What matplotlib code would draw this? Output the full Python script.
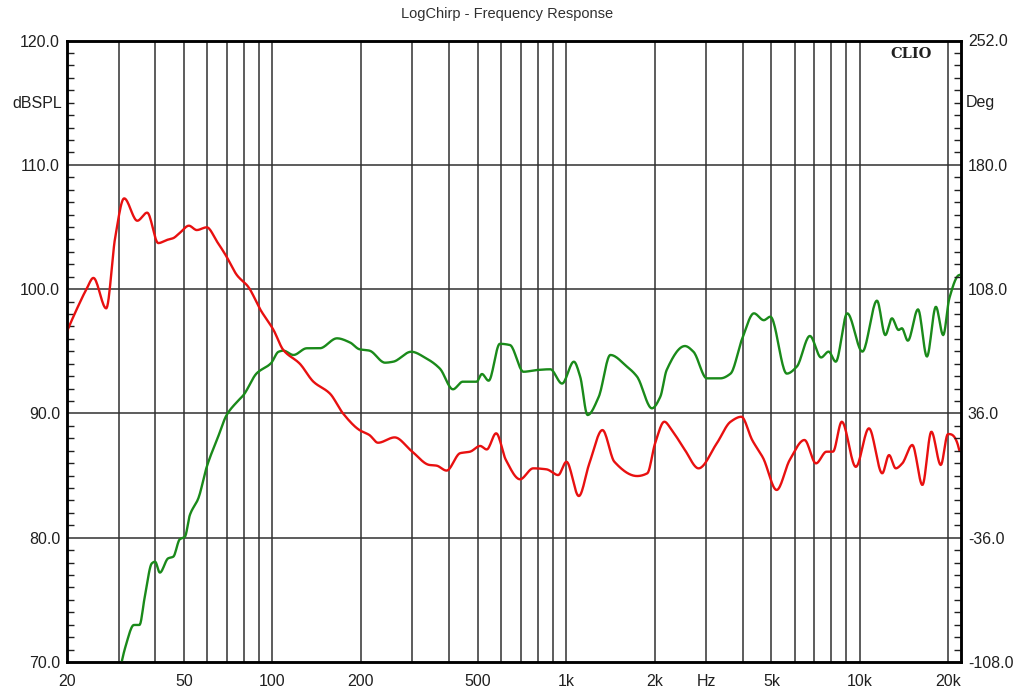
import numpy as np
import matplotlib
matplotlib.use("Agg")
import matplotlib.pyplot as plt
from matplotlib.ticker import FixedLocator, MultipleLocator

plt.rcParams['font.family'] = ['Liberation Sans', 'DejaVu Sans']

# ---------------- data ---------------- #
red_freq = [20, 22.1, 23.3, 24.6, 27.2, 29.2, 31.3, 34.7, 37.5, 40.9, 43.7, 46.0, 48.3, 52.0,
            55.3, 59.8, 64.9, 69.3, 75.9, 82.7, 91.3, 101, 109, 124, 138, 157, 174, 198, 214,
            229, 261, 297, 343, 362, 392, 436, 471, 510, 537, 578, 624, 697, 773, 858, 940,
            1003, 1105, 1200, 1330, 1460, 1745, 1890, 2010, 2160, 2290, 2539, 2825, 3260,
            3630, 3950, 4300, 4690, 5210, 5770, 6480, 7090, 7700, 8100, 8680, 9690, 10740,
            11920, 12570, 13250, 13950, 15090, 16330, 17520, 18860, 19950, 21800]
red_db = [96.6, 98.9, 100.0, 100.9, 98.45, 104.2, 107.3, 105.5, 106.15, 103.7, 103.95, 104.1,
          104.5, 105.1, 104.75, 104.97, 103.8, 102.75, 101.1, 100.2, 98.3, 96.7, 95.1, 94.0,
          92.55, 91.6, 90.0, 88.66, 88.26, 87.64, 88.07, 87.0, 85.85, 85.8, 85.4, 86.8, 86.92,
          87.38, 87.1, 88.4, 86.25, 84.7, 85.58, 85.5, 85.04, 86.11, 83.35, 85.98, 88.66,
          86.11, 84.96, 85.18, 87.6, 89.33, 88.66, 87.05, 85.58, 87.6, 89.33, 89.73, 87.86,
          86.39, 83.84, 86.25, 87.86, 85.98, 86.92, 86.92, 89.33, 85.7, 88.8, 85.18, 86.65,
          85.58, 85.98, 87.46, 84.24, 88.53, 85.85, 88.34, 87.05]

green_freq = [30.7, 31.6, 33.8, 35.3, 36.8, 38.9, 39.9, 41.4, 44.2, 46.0, 48.4, 50.4, 52.4,
              56.0, 59.8, 65.4, 69.9, 75.9, 79.8, 88.5, 98.9, 105, 109, 118, 131, 145, 166,
              184, 198, 214, 242, 258, 297, 334, 372, 412, 445, 496, 517, 545, 595, 644, 716,
              795, 884, 969, 1063, 1117, 1183, 1292, 1415, 1612, 1745, 1960, 2093, 2200, 2539,
              2714, 3014, 3350, 3630, 3980, 4360, 4710, 4960, 5640, 6100, 6760, 7380, 7830,
              8280, 9060, 10200, 11440, 12210, 12860, 13550, 13900, 14570, 15780, 16920,
              18150, 19220, 20170, 21800]
green_db = [70.0, 71.2, 72.98, 72.98, 75.25, 77.94, 78.07, 77.19, 78.34, 78.47, 79.87, 80.08,
            81.83, 83.17, 85.7, 88.13, 89.87, 90.94, 91.48, 93.23, 94.03, 94.96, 95.05, 94.7,
            95.24, 95.24, 96.04, 95.7, 95.16, 95.05, 94.08, 94.16, 94.96, 94.43, 93.6, 91.94,
            92.55, 92.55, 93.17, 92.63, 95.6, 95.5, 93.35, 93.49, 93.55, 92.4, 94.16, 92.95,
            89.87, 91.34, 94.7, 93.76, 92.95, 90.41, 91.34, 93.49, 95.42, 94.96, 92.82, 92.82,
            93.2, 96.04, 98.05, 97.5, 97.78, 93.2, 93.76, 96.23, 94.5, 94.97, 94.16, 98.05,
            94.97, 99.07, 96.3, 97.65, 96.71, 96.85, 95.85, 98.37, 94.57, 98.58, 96.3, 99.26,
            101.13]

grid_freqs = [20, 30, 40, 50, 60, 70, 80, 90, 100, 200, 300, 400, 500, 600, 700, 800, 900,
              1000, 2000, 3000, 4000, 5000, 6000, 7000, 8000, 9000, 10000, 20000]
x_labels = {20: "20", 50: "50", 100: "100", 200: "200", 500: "500", 1000: "1k", 2000: "2k",
            3000: "Hz", 5000: "5k", 10000: "10k", 20000: "20k"}
db_ticks = [70, 80, 90, 100, 110, 120]
deg_ticks = [-108, -36, 36, 108, 180, 252]

# ---------------------------------------------------------------- #
def smooth_curve(freq, vals, n=1200):
    # resample in log-frequency for a smooth trace
    lf = np.log10(freq)
    lx = np.linspace(lf[0], lf[-1], n)
    try:
        from scipy.interpolate import PchipInterpolator
        return 10 ** lx, PchipInterpolator(lf, vals)(lx)
    except ImportError:
        return 10 ** lx, np.interp(lx, lf, vals)

fig = plt.figure(figsize=(10.27, 6.93), dpi=100)
ax = fig.add_axes([67/1027, 31/693, (961-67)/1027, (662-40.5)/693])

ax.set_xscale('log')
ax.set_xlim(20, 22100)
ax.set_ylim(70, 120)

for f in grid_freqs:
    ax.axvline(f, color='#303030', lw=1.1, zorder=1)
for d in db_ticks[1:-1]:
    ax.axhline(d, color='#303030', lw=1.1, zorder=1)

fx, fy = smooth_curve(green_freq, green_db)
ax.plot(fx, fy, color='#1a8a1a', lw=1.7, zorder=3, clip_on=True)
fx, fy = smooth_curve(red_freq, red_db)
ax.plot(fx, fy, color='#e81010', lw=1.7, zorder=3, clip_on=True)

ax.xaxis.set_major_locator(FixedLocator(grid_freqs))
ax.xaxis.set_minor_locator(FixedLocator([]))
ax.set_xticklabels([x_labels.get(f, "") for f in grid_freqs])
ax.tick_params(axis='x', length=0, pad=9, labelsize=11.5, colors='#202020')

ax.yaxis.set_major_locator(FixedLocator(db_ticks))
ax.yaxis.set_minor_locator(MultipleLocator(1))
ax.set_yticklabels(["%.1f" % v for v in db_ticks])
ax.tick_params(axis='y', which='major', direction='in', length=0, pad=5, labelsize=11.5,
               colors='#202020')
ax.tick_params(axis='y', which='minor', direction='in', length=5, width=1, color='#202020')

for s in ax.spines.values():
    s.set_linewidth(1.8)
    s.set_color('black')

ax2 = ax.twinx()
ax2.set_ylim(-108, 252)
ax2.yaxis.set_major_locator(FixedLocator(deg_ticks))
ax2.yaxis.set_minor_locator(MultipleLocator(7.2))
ax2.set_yticklabels(["%.1f" % v for v in deg_ticks])
ax2.tick_params(axis='y', which='major', direction='in', length=0, pad=5, labelsize=11.5,
                colors='#202020')
ax2.tick_params(axis='y', which='minor', direction='in', length=5, width=1, color='#202020')
for s in ax2.spines.values():
    s.set_linewidth(1.8)
    s.set_color('black')

fig.text(62/1027, 1 - 103/693, "dBSPL", ha='right', va='center', fontsize=11.5, color='#202020')
fig.text(966/1027, 1 - 103/693, "Deg", ha='left', va='center', fontsize=11.5, color='#202020')
fig.text(507/1027, 1 - 14/693, "LogChirp - Frequency Response", ha='center', va='center',
         fontsize=10.5, color='#303030')
ax.text(0.967, 0.99, "CLIO", transform=ax.transAxes, ha='right', va='top',
        fontsize=10.5, fontweight='bold', family='DejaVu Serif', color='#202020')

fig.savefig("out.png", dpi=100)
